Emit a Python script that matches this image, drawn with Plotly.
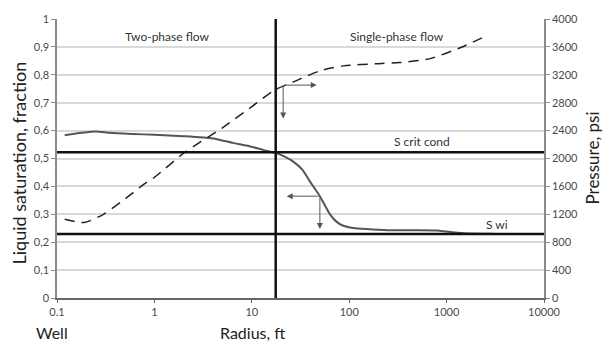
import plotly.graph_objects as go
import numpy as np

# Liquid saturation curve (left axis)
sat_radius = [0.12, 0.18, 0.25, 0.35, 0.6, 1, 2, 4, 6.4, 10, 13, 17.6, 22, 26.7, 33, 39.5, 50, 63.5, 75, 87, 110, 151, 250, 500, 800, 1000, 1500, 3000]
sat_values = [0.583, 0.592, 0.597, 0.592, 0.588, 0.585, 0.580, 0.572, 0.556, 0.542, 0.531, 0.520, 0.506, 0.489, 0.460, 0.418, 0.365, 0.300, 0.272, 0.259, 0.251, 0.247, 0.243, 0.243, 0.242, 0.238, 0.232, 0.230]

# Pressure curve (right axis)
p_radius = [0.12, 0.19, 0.3, 0.5, 0.77, 1, 2.06, 5, 10, 17, 26, 31, 50, 87, 200, 330, 675, 1380, 2570]
p_values = [1130, 1082, 1200, 1420, 1626, 1730, 2090, 2440, 2744, 2978, 3091, 3138, 3257, 3328, 3360, 3375, 3432, 3588, 3760]

# Reference lines
r_crit = 17.6
s_crit_cond = 0.522
s_wi = 0.229

# Arrows: (tail_x, tail_y, head_x, head_y) in radius / saturation units
arrows = [
    (21, 0.763, 46.4, 0.763),
    (21, 0.763, 21, 0.643),
    (50, 0.365, 22.8, 0.365),
    (50, 0.365, 50, 0.247),
]

y_ticks = [0, 0.1, 0.2, 0.3, 0.4, 0.5, 0.6, 0.7, 0.8, 0.9, 1]
y_ticktext = ["0", "0,1", "0,2", "0,3", "0,4", "0,5", "0,6", "0,7", "0,8", "0,9", "1"]
x_ticks = [0.1, 1, 10, 100, 1000, 10000]
x_ticktext = ["0.1", "1", "10", "100", "1000", "10000"]
p_ticks = list(range(0, 4001, 400))

FONT = "Lato"
TICKC = "#4a4a4a"

fig = go.Figure()
fig.add_trace(go.Scatter(x=sat_radius, y=sat_values, mode="lines",
                         line=dict(color="#555555", width=2, shape="spline", smoothing=0.6),
                         showlegend=False, hoverinfo="skip"))
fig.add_trace(go.Scatter(x=p_radius, y=p_values, mode="lines", yaxis="y2",
                         line=dict(color="#222222", width=1.5, dash="10px,7px", shape="spline", smoothing=0.6),
                         showlegend=False, hoverinfo="skip"))

shapes = [
    dict(type="line", xref="x", yref="paper", x0=r_crit, x1=r_crit, y0=0, y1=1,
         line=dict(color="#111111", width=2.5)),
    dict(type="line", xref="paper", yref="y", x0=0, x1=1, y0=s_crit_cond, y1=s_crit_cond,
         line=dict(color="#111111", width=2.5)),
    dict(type="line", xref="paper", yref="y", x0=0, x1=1, y0=s_wi, y1=s_wi,
         line=dict(color="#111111", width=2.5)),
]

annotations = []
for tx, ty, hx, hy in arrows:
    annotations.append(dict(x=np.log10(hx), y=hy, ax=np.log10(tx), ay=ty,
                            xref="x", yref="y", axref="x", ayref="y",
                            showarrow=True, arrowhead=2, arrowsize=1.2, arrowwidth=1,
                            arrowcolor="#555555", text=""))

def txt(x, y, s, size=12, color="#333333", **kw):
    d = dict(x=x, y=y, xref="paper", yref="paper", text=s, showarrow=False,
             xanchor="center", yanchor="middle",
             font=dict(family=FONT, size=size, color=color))
    d.update(kw)
    annotations.append(d)

W, H = 603, 348
L, R, T, B = 57, 544, 16, 298
def px(xp): return (xp - L) / (R - L)
def py(yp): return (B - yp) / (B - T)

txt(px(167), py(34), "Two-phase flow")
txt(px(397), py(34), "Single-phase flow")
txt(px(422), py(140), "S crit cond")
txt(px(497), py(224), "S wi")
txt(px(52), py(333), "Well", size=16, color="#222222")
txt(px(252), py(333), "Radius, ft", size=16, color="#222222")
txt(px(19), py(162), "Liquid saturation, fraction", size=18, color="#222222", textangle=-90)
txt(px(592), py(157), "Pressure, psi", size=17, color="#222222", textangle=-90)

fig.update_layout(
    width=W, height=H,
    margin=dict(l=L, r=W - R, t=T, b=H - B),
    paper_bgcolor="white", plot_bgcolor="white",
    font=dict(family=FONT, size=11, color=TICKC),
    shapes=shapes, annotations=annotations,
    xaxis=dict(type="log", range=[-1, 4], tickvals=x_ticks, ticktext=x_ticktext,
               showgrid=False, zeroline=False, showline=True, linecolor="#666666", linewidth=1.5,
               ticks="outside", ticklen=3, tickcolor="#666666",
               tickfont=dict(family=FONT, size=11, color=TICKC)),
    yaxis=dict(range=[0, 1], tickvals=y_ticks, ticktext=y_ticktext,
               showgrid=True, gridcolor="#d9d9d9", gridwidth=1.5, zeroline=False,
               showline=True, linecolor="#8a8a8a", linewidth=1.5,
               ticks="outside", ticklen=4, tickcolor="#8a8a8a",
               tickfont=dict(family=FONT, size=11, color=TICKC)),
    yaxis2=dict(range=[0, 4000], tickvals=p_ticks, overlaying="y", side="right",
                showgrid=False, zeroline=False, showline=True, linecolor="#8a8a8a", linewidth=1.5,
                ticks="outside", ticklen=4, tickcolor="#8a8a8a",
                tickfont=dict(family=FONT, size=11, color=TICKC)),
)

fig.write_html("out.html")
